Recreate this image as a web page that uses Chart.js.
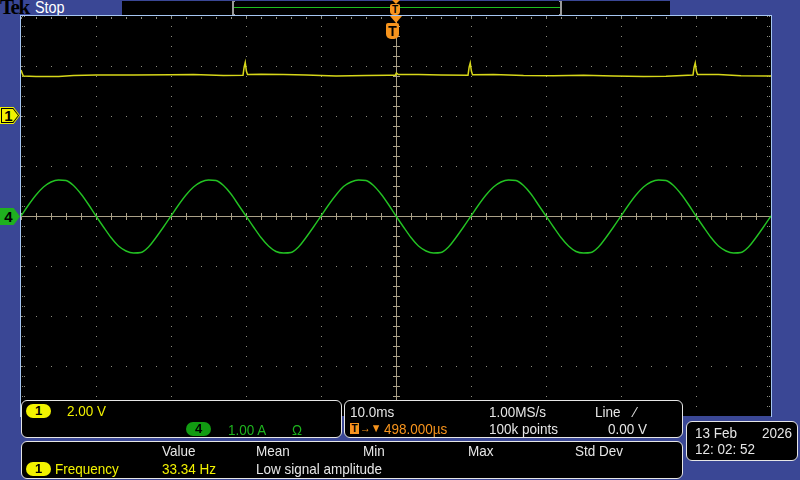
<!DOCTYPE html>
<html>
<head>
<meta charset="utf-8">
<script src="https://cdn.jsdelivr.net/npm/chart.js@4.4.1/dist/chart.umd.min.js"></script>
<style>
  body { margin: 0; width: 800px; height: 480px; background: #3a4795; overflow: hidden; position: relative;
         font-family: "Liberation Sans", Arial, sans-serif; }
  .abs { position: absolute; }
  .panel { position: absolute; background: #000; border: 1px solid #e6e6e6; border-radius: 6px; box-sizing: border-box; }
  .t { position: absolute; font-size: 15px; line-height: 15px; white-space: nowrap; color: #e6e6e6;
       transform: scaleX(0.9); transform-origin: left center; }
  .y { color: #f2f200; }
  .g { color: #1eb41e; }
  .o { color: #f7941d; }
  .pill { position: absolute; width: 25px; height: 14px; border-radius: 7px; color: #000; font-weight: bold;
          font-size: 13px; line-height: 14px; text-align: center; }
  .mark { position: absolute; clip-path: polygon(0 0, 68% 0, 100% 50%, 68% 100%, 0 100%); }
  #scope { position: absolute; left: 21px; top: 16px; }
</style>
</head>
<body>

<!-- top bar -->
<div class="abs" style="left:0px;top:-3px;font-family:'Liberation Serif',serif;font-weight:bold;font-size:21px;line-height:21px;color:#000;letter-spacing:-1.5px;">Tek</div>
<div class="abs" style="left:35px;top:0px;font-size:16px;line-height:16px;color:#fff;transform:scaleX(0.9);transform-origin:left;">Stop</div>
<div class="abs" style="left:122px;top:1px;width:548px;height:14px;background:#000;"></div>
<div class="abs" style="left:233px;top:7px;width:327px;height:1px;background:#1fc01f;"></div>
<div class="abs" style="left:232px;top:1px;width:2px;height:14px;background:#9a9a9a;"></div>
<div class="abs" style="left:234px;top:1px;width:1px;height:1px;background:#9a9a9a;"></div>
<div class="abs" style="left:234px;top:14px;width:1px;height:1px;background:#9a9a9a;"></div>
<div class="abs" style="left:560px;top:1px;width:2px;height:14px;background:#9a9a9a;"></div>
<div class="abs" style="left:559px;top:1px;width:1px;height:1px;background:#9a9a9a;"></div>
<div class="abs" style="left:559px;top:14px;width:1px;height:1px;background:#9a9a9a;"></div>
<div class="abs" style="left:392px;top:0px;width:0;height:0;border-left:4px solid transparent;border-right:4px solid transparent;border-top:4px solid #f7941d;"></div>
<div class="abs" style="left:390px;top:4px;width:10px;height:11px;background:#f7941d;border-radius:2px 2px 4px 4px;color:#000;font-weight:bold;font-size:10px;line-height:11px;text-align:center;">T</div>

<!-- graticule frame -->
<canvas id="scope" width="750" height="400"></canvas>
<div class="abs" style="left:20px;top:15px;width:752px;height:1px;background:#a6c6f2;"></div>
<div class="abs" style="left:20px;top:15px;width:1px;height:402px;background:#a6c6f2;"></div>
<div class="abs" style="left:771px;top:15px;width:1px;height:402px;background:#a6c6f2;"></div>

<!-- trigger position marker -->
<div class="abs" style="left:390px;top:16px;width:0;height:0;border-left:6px solid transparent;border-right:6px solid transparent;border-top:7px solid #f7941d;"></div>
<div class="abs" style="left:386px;top:23px;width:13px;height:16px;background:#f7941d;border-radius:2px 2px 5px 5px;color:#000;font-weight:bold;font-size:14px;line-height:16px;text-align:center;">T</div>

<!-- channel markers -->
<div class="mark" style="left:0;top:107px;width:20px;height:17px;background:#f2f200;"></div>
<div class="mark" style="left:1px;top:108px;width:18px;height:15px;background:#000;"></div>
<div class="mark" style="left:2px;top:109px;width:16px;height:13px;background:#f2f200;"></div>
<div class="abs" style="left:3px;top:107px;width:11px;height:17px;font-weight:bold;font-size:15px;line-height:17px;color:#000;text-align:center;">1</div>
<div class="mark" style="left:0;top:208px;width:20px;height:17px;background:#1fb01f;"></div>
<div class="abs" style="left:3px;top:208px;width:11px;height:17px;font-weight:bold;font-size:15px;line-height:17px;color:#000;text-align:center;">4</div>

<!-- vertical settings -->
<div class="panel" style="left:21px;top:400px;width:321px;height:38px;"></div>
<div class="pill" style="left:26px;top:404px;background:#f2f200;">1</div>
<div class="t y" style="left:67px;top:403px;">2.00 V</div>
<div class="pill" style="left:186px;top:422px;background:#129c12;">4</div>
<div class="t g" style="left:228px;top:422px;">1.00 A</div>
<div class="t g" style="left:292px;top:422px;">Ω</div>

<!-- horizontal / trigger settings -->
<div class="panel" style="left:344px;top:400px;width:339px;height:38px;"></div>
<div class="t" style="left:350px;top:404px;">10.0ms</div>
<div class="t" style="left:489px;top:404px;">1.00MS/s</div>
<div class="t" style="left:595px;top:404px;">Line</div>
<div class="t" style="left:634px;top:404px;">⁄</div>
<div class="abs" style="left:350px;top:423px;width:9px;height:11px;background:#f7941d;color:#000;font-weight:bold;font-size:10px;line-height:11px;text-align:center;">T</div>
<div class="t o" style="left:360px;top:421px;font-size:12px;">→▼</div>
<div class="t o" style="left:384px;top:421px;">498.000µs</div>
<div class="t" style="left:489px;top:421px;">100k points</div>
<div class="t" style="left:608px;top:421px;">0.00 V</div>

<!-- measurements -->
<div class="panel" style="left:21px;top:441px;width:662px;height:38px;"></div>
<div class="t" style="left:162px;top:443px;">Value</div>
<div class="t" style="left:256px;top:443px;">Mean</div>
<div class="t" style="left:363px;top:443px;">Min</div>
<div class="t" style="left:468px;top:443px;">Max</div>
<div class="t" style="left:575px;top:443px;">Std Dev</div>
<div class="pill" style="left:26px;top:462px;background:#f2f200;">1</div>
<div class="t y" style="left:55px;top:461px;">Frequency</div>
<div class="t y" style="left:162px;top:461px;">33.34 Hz</div>
<div class="t" style="left:256px;top:461px;">Low signal amplitude</div>

<!-- date -->
<div class="panel" style="left:686px;top:421px;width:112px;height:40px;"></div>
<div class="t" style="left:695px;top:425px;">13 Feb</div>
<div class="t" style="left:762px;top:425px;">2026</div>
<div class="t" style="left:695px;top:441px;">12: 02: 52</div>

<script>
// time in ms, 10 ms/div, trigger at the centre
const ch1Times = [-50.0, -49.7, -48, -45, -43, -40, -35, -30, -27, -23,
  -20.4, -20.25, -20.1, -19.95, -19.8, -18, -15, -12, -8, -4,
  -1, -0.1, 0.05, 0.3, 3, 6, 9.6, 9.75, 9.9, 10.05,
  10.2, 13, 17, 21, 25, 29, 33, 36, 39.6, 39.75,
  39.9, 40.05, 40.2, 43, 46, 50];
const ch1Volts = [1.84, 1.60, 1.58, 1.58, 1.62, 1.64, 1.64, 1.65, 1.66, 1.62,
  1.63, 1.95, 2.14, 1.80, 1.66, 1.67, 1.66, 1.64, 1.60, 1.62,
  1.63, 1.63, 1.72, 1.66, 1.66, 1.64, 1.63, 1.95, 2.12, 1.80,
  1.65, 1.66, 1.62, 1.61, 1.63, 1.60, 1.58, 1.59, 1.64, 1.95,
  2.12, 1.80, 1.66, 1.66, 1.61, 1.60];

const ch4Times = [-50, -49, -48, -47, -46, -45, -44, -43, -42, -41, -40, -39, -38, -37, -36, -35, -34, -33, -32, -31,
  -30, -29, -28, -27, -26, -25, -24, -23, -22, -21, -20, -19, -18, -17, -16, -15, -14, -13, -12, -11,
  -10, -9, -8, -7, -6, -5, -4, -3, -2, -1, 0, 1, 2, 3, 4, 5, 6, 7, 8, 9,
  10, 11, 12, 13, 14, 15, 16, 17, 18, 19, 20, 21, 22, 23, 24, 25, 26, 27, 28, 29,
  30, 31, 32, 33, 34, 35, 36, 37, 38, 39, 40, 41, 42, 43, 44, 45, 46, 47, 48, 49, 50];
const ch4Amps = [0.00, 0.22, 0.42, 0.58, 0.68, 0.72, 0.71, 0.61, 0.44, 0.23, 0.00, -0.22, -0.43, -0.60, -0.70, -0.74, -0.73, -0.62, -0.43, -0.22,
  0.00, 0.22, 0.42, 0.58, 0.68, 0.72, 0.71, 0.61, 0.44, 0.22, 0.00, -0.22, -0.43, -0.60, -0.71, -0.74, -0.73, -0.62, -0.43, -0.22,
  0.00, 0.22, 0.42, 0.59, 0.68, 0.72, 0.71, 0.61, 0.44, 0.23, 0.00, -0.22, -0.43, -0.60, -0.70, -0.74, -0.73, -0.62, -0.43, -0.22,
  0.00, 0.22, 0.42, 0.58, 0.68, 0.72, 0.71, 0.61, 0.44, 0.22, 0.00, -0.22, -0.43, -0.60, -0.71, -0.74, -0.73, -0.62, -0.43, -0.22,
  0.00, 0.22, 0.42, 0.58, 0.68, 0.72, 0.71, 0.61, 0.44, 0.23, 0.00, -0.22, -0.43, -0.60, -0.70, -0.74, -0.73, -0.62, -0.43, -0.22, 0.00];

const ch1VoltsPerDiv = 2.0, ch1Offset = 2;   // divisions above centre
const ch4AmpsPerDiv = 1.0, ch4Offset = 0;

const graticule = {
  id: 'graticule',
  beforeDatasetsDraw(chart) {
    const { ctx, chartArea: a, scales: { x, y } } = chart;
    const px = v => Math.round(x.getPixelForValue(v));
    const py = v => Math.round(y.getPixelForValue(v));
    ctx.save();
    ctx.fillStyle = '#000';
    ctx.fillRect(a.left, a.top, a.width, a.height);

    ctx.fillStyle = 'rgb(140,140,128)';
    for (let xv = -40; xv <= 40; xv += 10) {
      if (xv === 0) continue;
      for (let yv = -4; yv <= 4.001; yv += 0.2) ctx.fillRect(px(xv), py(yv), 1, 1);
    }
    for (let yv = -3; yv <= 3; yv++) {
      if (yv === 0) continue;
      for (let xv = -50; xv <= 50.001; xv += 2) ctx.fillRect(px(xv), py(yv), 1, 1);
    }
    // edge ticks
    for (let yv = -4; yv <= 4.001; yv += 0.2) {
      ctx.fillRect(a.left + 1, py(yv), 1, 1);
      ctx.fillRect(a.left + 3, py(yv), 1, 1);
      ctx.fillRect(a.right - 4, py(yv), 1, 1);
      ctx.fillRect(a.right - 2, py(yv), 1, 1);
    }
    for (let xv = -50; xv <= 50.001; xv += 2) ctx.fillRect(px(xv), a.top + 1, 1, 2);

    // centre cross
    ctx.fillStyle = 'rgb(170,160,135)';
    const cx = px(0), cy = py(0);
    ctx.fillRect(a.left, cy, a.width, 1);
    ctx.fillRect(cx, a.top, 1, a.height);
    for (let xv = -50; xv <= 50.001; xv += 2) ctx.fillRect(px(xv), cy - 3, 1, 7);
    for (let yv = -4; yv <= 4.001; yv += 0.2) ctx.fillRect(cx - 3, py(yv), 7, 1);
    ctx.restore();
  }
};

new Chart(document.getElementById('scope'), {
  type: 'line',
  data: {
    datasets: [
      {
        label: 'Ch1',
        data: ch1Times.map((t, i) => ({ x: t, y: ch1Volts[i] / ch1VoltsPerDiv + ch1Offset })),
        borderColor: 'rgb(215,215,25)',
        borderWidth: 1.5,
        pointRadius: 0,
        tension: 0
      },
      {
        label: 'Ch4',
        data: ch4Times.map((t, i) => ({ x: t, y: ch4Amps[i] / ch4AmpsPerDiv + ch4Offset })),
        borderColor: 'rgb(35,195,35)',
        borderWidth: 1.4,
        pointRadius: 0,
        cubicInterpolationMode: 'monotone'
      }
    ]
  },
  options: {
    responsive: false,
    animation: false,
    events: [],
    layout: { padding: 0 },
    plugins: { legend: { display: false }, tooltip: { enabled: false } },
    scales: {
      x: { type: 'linear', min: -50, max: 50, display: false },
      y: { type: 'linear', min: -4, max: 4, display: false }
    }
  },
  plugins: [graticule]
});
</script>
</body>
</html>
